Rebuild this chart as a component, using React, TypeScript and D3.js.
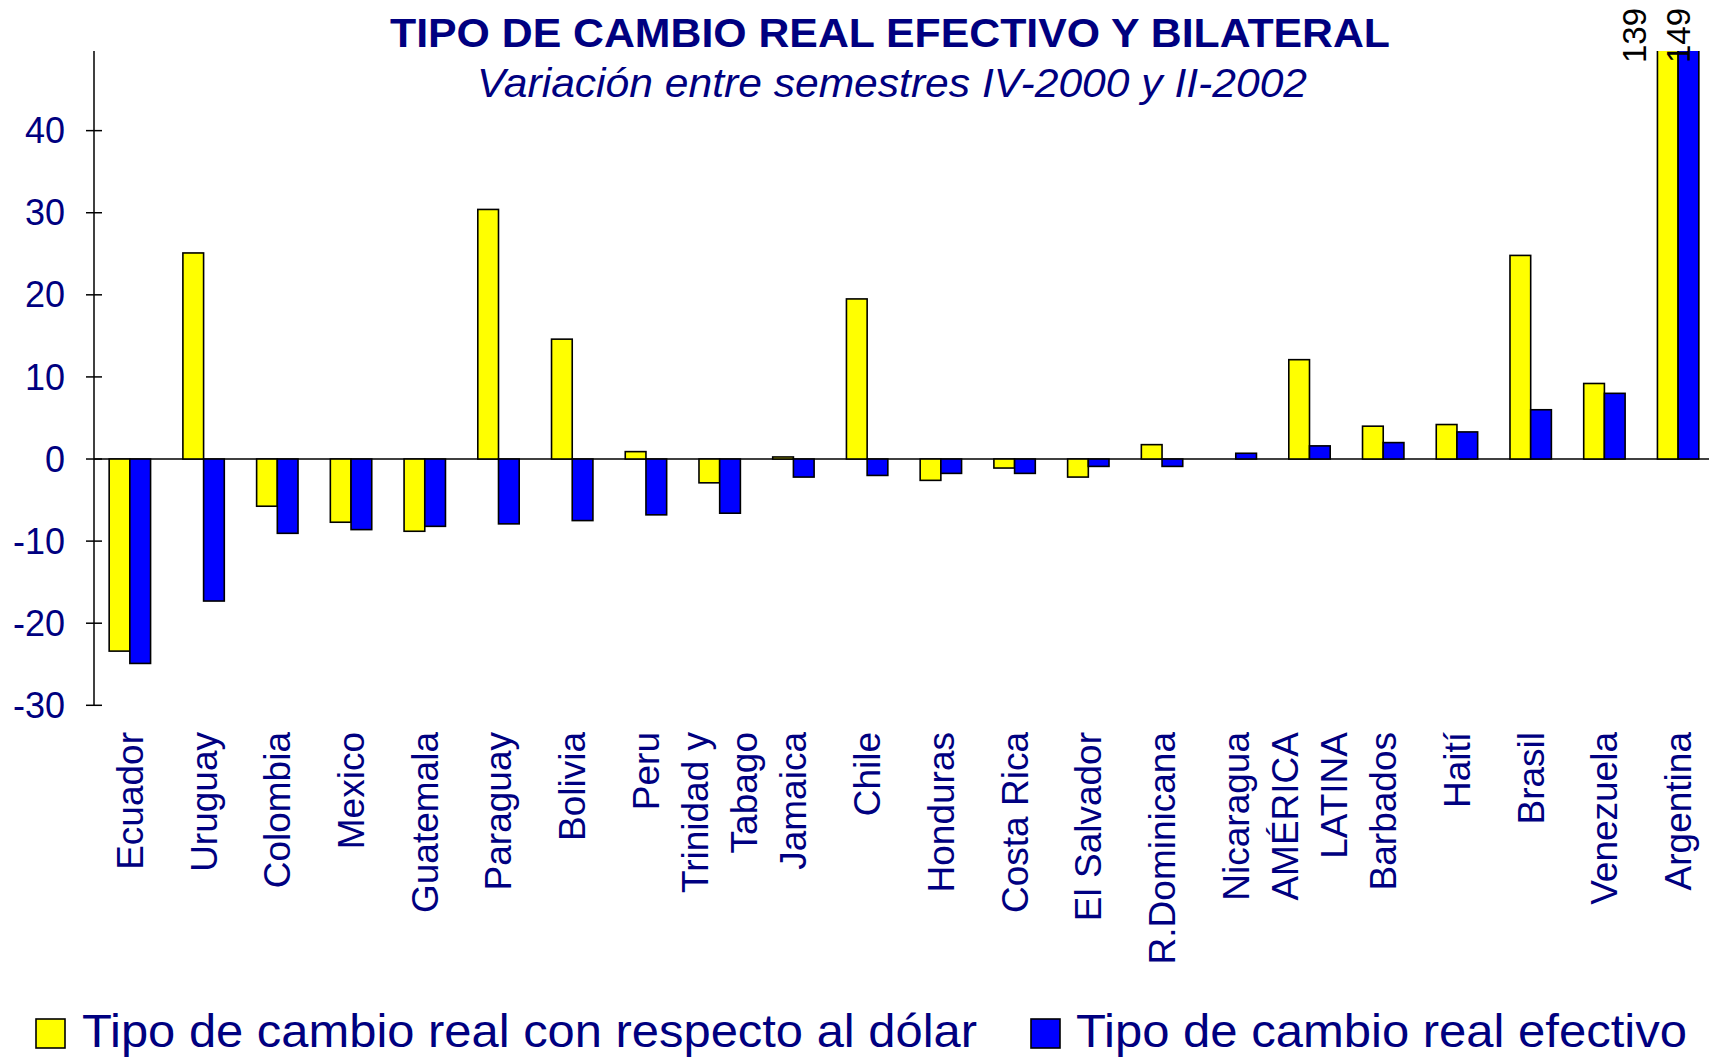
import React from "react";
import * as d3 from "d3";

const categories = [
  "Ecuador", "Uruguay", "Colombia", "Mexico", "Guatemala", "Paraguay", "Bolivia", "Peru",
  "Trinidad y\nTabago", "Jamaica", "Chile", "Honduras", "Costa Rica", "El Salvador",
  "R.Dominicana", "Nicaragua", "AMÉRICA\nLATINA", "Barbados", "Haití", "Brasil", "Venezuela", "Argentina",
];
const dolarValues = [-23.4, 25.1, -5.75, -7.7, -8.8, 30.4, 14.6, 0.9, -2.9, 0.25, 19.5, -2.6, -1.1, -2.2, 1.75, 0, 12.1, 4.0, 4.2, 24.8, 9.2, 139];
const efectivoValues = [-24.9, -17.3, -9.05, -8.6, -8.2, -7.9, -7.5, -6.8, -6.6, -2.2, -2.0, -1.75, -1.75, -0.9, -0.9, 0.7, 1.6, 2.0, 3.3, 6.0, 8.0, 149];
const yTicks = [-30, -20, -10, 0, 10, 20, 30, 40];
const seriesNames = ["Tipo de cambio real con respecto al dólar", "Tipo de cambio real efectivo"];
const seriesColors = ["#FFFF00", "#0000FF"];
const titleText = "TIPO DE CAMBIO REAL EFECTIVO Y BILATERAL";
const subtitleText = "Variación entre semestres IV-2000 y II-2002";

const W = 1709;
const H = 1058;
const NAVY = "#000080";
const FONT = "'Liberation Sans', Arial, Helvetica, sans-serif";

export default function App() {
  const y = d3.scaleLinear().domain([-30, 49.7]).range([705.3, 51]);
  const x = d3.scaleBand<string>().domain(categories).range([93, 1715]).paddingInner(0).paddingOuter(0);
  const step = x.step();
  const inner = d3.scaleBand<number>().domain([0, 1]).range([step / 2 - 20.7, step / 2 + 20.7]);
  const axisX = 94;
  const y0 = y(0);
  const yMax = y.domain()[1];
  const series = [dolarValues, efectivoValues];

  return (
    <svg width={W} height={H} style={{ position: "absolute", left: 0, top: 0, display: "block", background: "#fff" }} fontFamily={FONT}>
      <defs>
        <clipPath id="plotClip">
          <rect x={axisX} y={y(yMax)} width={W - axisX} height={H - y(yMax)} />
        </clipPath>
      </defs>
      <rect x={0} y={0} width={W} height={H} fill="#fff" />

      {/* titles */}
      <text x={890} y={47} textAnchor="middle" fontSize={41} fontWeight="bold" fill={NAVY} textLength={1000} lengthAdjust="spacingAndGlyphs">
        {titleText}
      </text>
      <text x={892} y={97} textAnchor="middle" fontSize={40} fontStyle="italic" fill={NAVY} textLength={830} lengthAdjust="spacingAndGlyphs">
        {subtitleText}
      </text>

      {/* zero line */}
      <line x1={axisX} x2={W} y1={y0} y2={y0} stroke="#000" strokeWidth={1.5} />

      {/* bars */}
      <g clipPath="url(#plotClip)">
        {categories.map((c, ci) =>
          series.map((vals, si) => {
            const v = vals[ci];
            if (v === 0) return null;
            const yv = y(v);
            return (
              <rect
                key={`${ci}-${si}`}
                x={(x(c) as number) + (inner(si) as number)}
                y={Math.min(yv, y0)}
                width={inner.bandwidth()}
                height={Math.abs(yv - y0)}
                fill={seriesColors[si]}
                stroke="#000"
                strokeWidth={1.6}
              />
            );
          })
        )}
      </g>

      {/* out-of-range value labels */}
      {categories.map((c, ci) =>
        series.map((vals, si) => {
          const v = vals[ci];
          if (v <= yMax) return null;
          const cx = (x(c) as number) + step / 2 + (si === 0 ? -44 : 0);
          return (
            <text key={`lbl-${ci}-${si}`} transform={`translate(${cx},63) rotate(-90)`} textAnchor="start" dy="0.35em" fontSize={33} fill="#000">
              {v}
            </text>
          );
        })
      )}

      {/* y axis */}
      <line x1={axisX} x2={axisX} y1={y(yMax)} y2={y(-30)} stroke="#000" strokeWidth={1.5} />
      {yTicks.map((t) => (
        <g key={t}>
          <line x1={axisX - 8} x2={axisX + 8} y1={y(t)} y2={y(t)} stroke="#000" strokeWidth={1.5} />
          <text x={65} y={y(t)} dy="0.35em" textAnchor="end" fontSize={36} fill={NAVY}>
            {t}
          </text>
        </g>
      ))}

      {/* category labels */}
      {categories.map((c) => {
        const lines = c.split("\n");
        const cx = (x(c) as number) + step / 2;
        return (
          <text key={c} transform={`translate(${cx},732) rotate(-90)`} textAnchor="end" fontSize={37} fill={NAVY}>
            {lines.map((ln, i) => (
              <tspan key={i} x={0} y={(i - (lines.length - 1) / 2) * 49} dy="0.35em">
                {ln}
              </tspan>
            ))}
          </text>
        );
      })}

      {/* legend */}
      <rect x={36} y={1019} width={29} height={29} fill={seriesColors[0]} stroke="#000" strokeWidth={1.6} />
      <text x={82} y={1047} fontSize={46} fill={NAVY} textLength={895} lengthAdjust="spacingAndGlyphs">
        {seriesNames[0]}
      </text>
      <rect x={1031} y={1019} width={29} height={29} fill={seriesColors[1]} stroke="#000" strokeWidth={1.6} />
      <text x={1076} y={1047} fontSize={46} fill={NAVY} textLength={611} lengthAdjust="spacingAndGlyphs">
        {seriesNames[1]}
      </text>
    </svg>
  );
}
